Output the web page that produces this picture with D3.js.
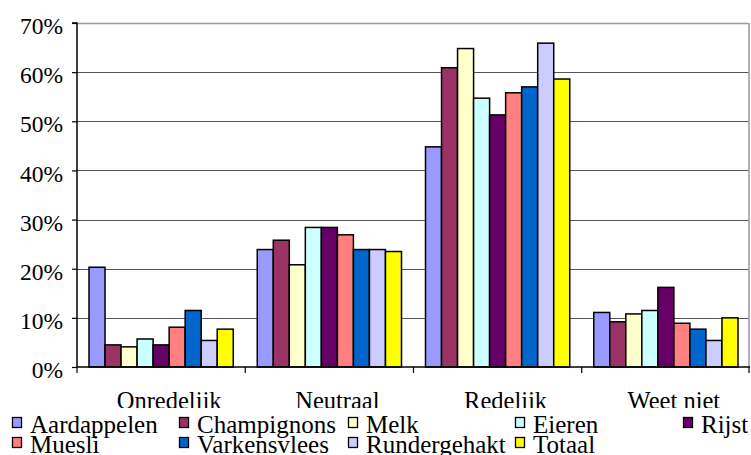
<!DOCTYPE html>
<html>
<head>
<meta charset="utf-8">
<script src="https://cdn.jsdelivr.net/npm/d3@7/dist/d3.min.js"></script>
</head>
<body style="margin:0;padding:0;background:#fff;overflow:hidden">
<svg id="chart" width="751" height="455" style="display:block"></svg>
<script>
const categories = ["Onredelijk", "Neutraal", "Redelijk", "Weet niet"];
const seriesNames = ["Aardappelen", "Champignons", "Melk", "Eieren", "Rijst", "Muesli", "Varkensvlees", "Rundergehakt", "Totaal"];
const seriesColors = ["#9999FF", "#993366", "#FFFFCC", "#CCFFFF", "#660066", "#FF8080", "#0066CC", "#CCCCFF", "#FFFF00"];
const aardappelen = [20.3, 23.9, 44.8, 11.1];
const champignons = [4.5, 25.8, 60.9, 9.2];
const melk = [4.1, 20.8, 64.8, 10.8];
const eieren = [5.7, 28.4, 54.7, 11.5];
const rijst = [4.5, 28.4, 51.3, 16.2];
const muesli = [8.1, 26.9, 55.8, 8.9];
const varkensvlees = [11.5, 23.9, 57.0, 7.7];
const rundergehakt = [5.4, 23.9, 65.9, 5.4];
const totaal = [7.7, 23.5, 58.6, 10.0];
const yTicks = [0, 10, 20, 30, 40, 50, 60, 70];

const seriesValues = [aardappelen, champignons, melk, eieren, rijst, muesli, varkensvlees, rundergehakt, totaal];
const FONT = "Liberation Serif";

const svg = d3.select("#chart");
const pLeft = 77, pRight = 750, pTop = 23, pBottom = 367;

const y = d3.scaleLinear().domain([0, 70]).range([pBottom, pTop]);
const x0 = d3.scaleBand().domain(categories).range([pLeft, pRight]).padding(0);
const x1 = d3.scaleBand().domain(seriesNames).range([12, x0.bandwidth() - 12]).padding(0);

// gridlines
svg.append("g").selectAll("line").data(yTicks.filter(d => d > 0)).join("line")
  .attr("x1", pLeft).attr("x2", pRight - 1)
  .attr("y1", d => Math.round(y(d)) + 0.5).attr("y2", d => Math.round(y(d)) + 0.5)
  .attr("stroke", d => d === 70 ? "#999" : "#555").attr("stroke-width", d => d === 70 ? 1.5 : 1.2);

// right border
svg.append("line").attr("x1", pRight - 1).attr("x2", pRight - 1).attr("y1", pTop).attr("y2", pBottom)
  .attr("stroke", "#999").attr("stroke-width", 1.5);

// bars
const data = [];
categories.forEach((c, ci) => {
  seriesNames.forEach((s, si) => {
    data.push({cat: c, series: s, value: seriesValues[si][ci], color: seriesColors[si]});
  });
});
svg.append("g").selectAll("rect").data(data).join("rect")
  .attr("x", d => x0(d.cat) + x1(d.series))
  .attr("y", d => y(d.value))
  .attr("width", x1.bandwidth())
  .attr("height", d => pBottom - y(d.value))
  .attr("fill", d => d.color)
  .attr("stroke", "#000").attr("stroke-width", 1.5);

// y axis
const yAxis = d3.axisLeft(y).tickValues(yTicks).tickFormat(d => d + "%").tickSize(5).tickPadding(9);
const gy = svg.append("g").attr("transform", `translate(${pLeft},0)`).call(yAxis)
  .attr("font-family", FONT).attr("font-size", 23);
gy.select(".domain").attr("stroke", "#000").attr("stroke-width", 1.5).attr("d", `M-5,${pTop}H0V${pBottom}`);
gy.selectAll(".tick line").attr("stroke", "#000").attr("stroke-width", 1.2);
gy.selectAll(".tick text").style("font-family", FONT).style("font-size", "23.5px").attr("dy", "0.45em").attr("fill", "#000");

// x axis
svg.append("line").attr("x1", pLeft).attr("x2", pRight).attr("y1", pBottom).attr("y2", pBottom)
  .attr("stroke", "#000").attr("stroke-width", 1.5);
const boundaries = categories.map(c => x0(c)).concat([pRight - 1]);
svg.append("g").selectAll("line").data(boundaries).join("line")
  .attr("x1", d => d).attr("x2", d => d).attr("y1", pBottom).attr("y2", pBottom + 6)
  .attr("stroke", "#000").attr("stroke-width", 1.2);

svg.append("g").selectAll("text").data(categories).join("text")
  .attr("x", d => x0(d) + x0.bandwidth() / 2 + 8)
  .attr("y", 409)
  .attr("text-anchor", "middle")
  .style("font-family", FONT)
  .style("font-size", "24.5px")
  .attr("fill", "#000")
  .text(d => d);

// legend
const lg = svg.append("g");
lg.append("rect").attr("x", 0).attr("y", 408).attr("width", 751).attr("height", 47).attr("fill", "#fff");
const colX = [12, 179, 348, 515, 683];
const legendItems = seriesNames.map((s, i) => {
  const row = i < 5 ? 0 : 1;
  const col = i < 5 ? i : i - 5;
  return {name: s, color: seriesColors[i], x: colX[col], y: 417 + row * 20};
});
const items = lg.selectAll("g.item").data(legendItems).join("g").attr("class", "item")
  .attr("transform", d => `translate(${d.x},${d.y})`);
items.append("rect").attr("x", 0.5).attr("y", 0.5).attr("width", 9).attr("height", 10)
  .attr("fill", d => d.color).attr("stroke", "#000").attr("stroke-width", 1.3);
items.append("text").attr("x", 18).attr("y", 15.5)
  .style("font-family", FONT)
  .style("font-size", "25px")
  .attr("fill", "#000")
  .text(d => d.name);
</script>
</body>
</html>
